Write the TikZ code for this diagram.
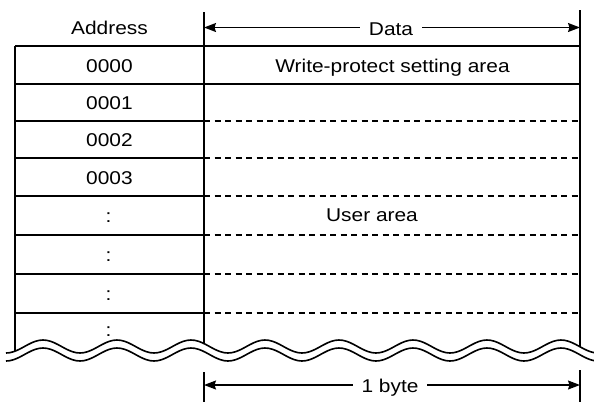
\documentclass[tikz,border=0pt]{standalone}
\usepackage{fontspec}
\setmainfont{Liberation Sans}
\usetikzlibrary{arrows.meta}
\newcommand{\TX}[1]{\scalebox{1.13}[1]{#1}}
\tikzset{
  lbl/.style={anchor=base, inner sep=0pt, font=\fontsize{18.5}{22}\selectfont},
  dimlbl/.style={anchor=base, inner ysep=2pt, inner xsep=9pt, fill=white, font=\fontsize{18.5}{22}\selectfont},
  border/.style={line width=2pt},
  rule/.style={line width=1.5pt},
  dashrule/.style={line width=1.5pt, dash pattern=on 6pt off 4.5pt},
  dimline/.style={line width=1.3pt, {Stealth[length=12pt,width=9pt,inset=1.5pt]}-{Stealth[length=12pt,width=9pt,inset=1.5pt]}},
  tickline/.style={line width=1.3pt},
  wave/.style={line width=1.6pt}
}
\begin{document}
\begin{tikzpicture}[x=1pt,y=-1pt]
\useasboundingbox (0,0) rectangle (594,402);
\def\wa{346.5}\def\wb{354.5}
% verticals
\coordinate (tl) at (15,46);
\coordinate (bl) at (15,{\wa-6.5*cos(4.86486*(15-43))});
\coordinate (sepT) at (204,12);
\coordinate (sepB) at (204,{\wa-6.5*cos(4.86486*(204-43))});
\coordinate (rT) at (580,10);
\coordinate (rB) at (580,{\wa-6.5*cos(4.86486*(580-43))});
\draw[border] (tl) -- (bl);
\draw[tickline] (sepT) -- (sepB);
\draw[border] (rT) -- (rB);
% horizontal lines
\draw[border] (15,46) -- (580,46);
\draw[rule] (15,84) -- (580,84);
\foreach \y in {121,158,196,235,274,313}{
  \draw[rule] (15,\y) -- (204,\y);
  \draw[dashrule] (204,\y) -- (580,\y);
}
% wave
\draw[wave] plot[domain=6:594,samples=160,smooth] (\x,{\wa-6.5*cos(4.86486*(\x-43))});
\draw[wave] plot[domain=6:594,samples=160,smooth] (\x,{\wb-6.5*cos(4.86486*(\x-43))});
% header
\node[lbl] (addr) at (109.5,34) {\TX{Address}};
\coordinate (dL) at (204,27.5);
\coordinate (dR) at (580,27.5);
\draw[dimline] (dL) -- (dR);
\node[dimlbl] (data) at (391,35) {\TX{Data}};
% address column
\node[lbl] (a0) at (109.5,72.3) {\TX{0000}};
\node[lbl] (a1) at (109.5,109.3) {\TX{0001}};
\node[lbl] (a2) at (109.5,146.3) {\TX{0002}};
\node[lbl] (a3) at (109.5,184) {\TX{0003}};
\node[lbl] (a4) at (108.5,222.5) {\TX{:}};
\node[lbl] (a5) at (108.5,261) {\TX{:}};
\node[lbl] (a6) at (108.5,300) {\TX{:}};
\node[lbl] (a7) at (108.5,336) {\TX{:}};
% data column
\node[lbl] (wp) at (392.5,72.3) {\TX{Write-protect setting area}};
\node[lbl] (ua) at (372,221.5) {\TX{User area}};
% bottom dimension
\coordinate (bT1) at (204,372);
\coordinate (bB1) at (204,402);
\coordinate (bT2) at (580,370);
\coordinate (bB2) at (580,402);
\draw[tickline] (bT1) -- (bB1);
\draw[tickline] (bT2) -- (bB2);
\coordinate (bL) at (204,385);
\coordinate (bR) at (580,385);
\draw[dimline] (bL) -- (bR);
\node[dimlbl] (byte) at (390,392) {\TX{1 byte}};
\end{tikzpicture}
\end{document}
